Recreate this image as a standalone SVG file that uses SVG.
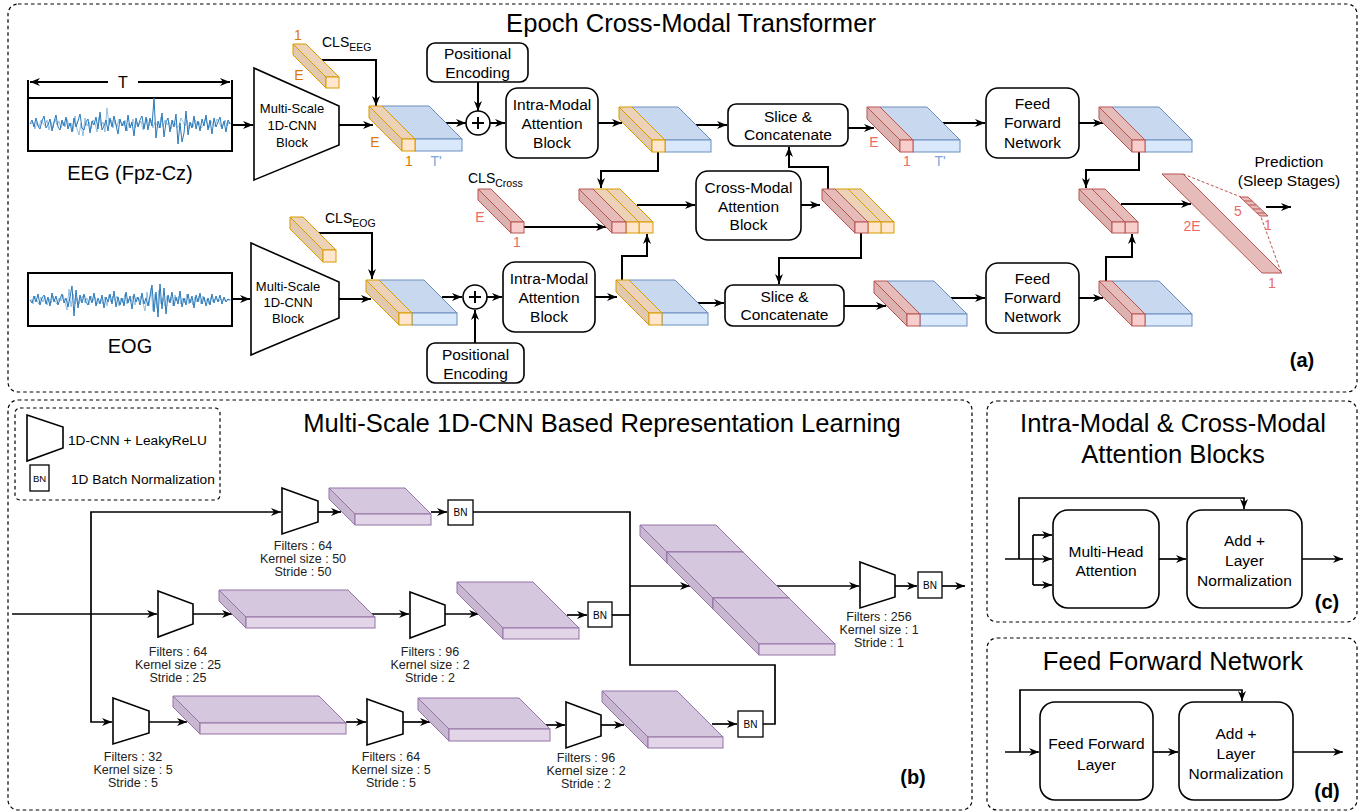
<svg xmlns="http://www.w3.org/2000/svg" width="1367" height="812" viewBox="0 0 1367 812">
<defs>
<style>
text{font-family:"Liberation Sans",Arial,Helvetica,sans-serif;fill:#000}
.c{text-anchor:middle}
.panel{fill:none;stroke:#000;stroke-width:1.2;stroke-dasharray:3.5 3}
.box{fill:#fff;stroke:#000;stroke-width:1.6}
.ln{fill:none;stroke:#000;stroke-width:2}
.lb{fill:none;stroke:#000;stroke-width:1.7}
.sig{fill:none;stroke:#2a78b8;stroke-width:1;stroke-linejoin:round}
.sig2{fill:none;stroke:#78b0dc;stroke-width:0.8;stroke-linejoin:round}
.ot{fill:#ecd2b6;stroke:#d79b00;stroke-width:1}
.ol{fill:#e2c8ac;stroke:#d79b00;stroke-width:1}
.of{fill:#ffe6cc;stroke:#d79b00;stroke-width:1}
.bt{fill:#c8d8ee;stroke:#6c8ebf;stroke-width:1}
.bf{fill:#dae8fc;stroke:#6c8ebf;stroke-width:1}
.rt{fill:#e6bcba;stroke:#b85450;stroke-width:1}
.rl{fill:#dcb2b0;stroke:#b85450;stroke-width:1}
.rf{fill:#f8cecc;stroke:#b85450;stroke-width:1}
.pt{fill:#d4c7de;stroke:#9673a6;stroke-width:1}
.pl{fill:#c8b7d1;stroke:#9673a6;stroke-width:1}
.pf{fill:#e1d5e7;stroke:#9673a6;stroke-width:1}
.lo{fill:#d97a00;font-size:14px}
.lr{fill:#ea6b66;font-size:14px}
.lbl{fill:#7ea6e0;font-size:14px}
.bx{font-size:15.5px}
.ms{font-size:13px}
.pr{font-size:12.5px;fill:#222}
.ttl{font-size:25.6px}
.tag{font-size:20px;font-weight:bold}
.trap{fill:#fff;stroke:#000;stroke-width:1.6}
.bn{fill:#fff;stroke:#000;stroke-width:1.3}
</style>
<marker id="ah" viewBox="0 0 10 8" refX="10" refY="4" markerWidth="10" markerHeight="8" markerUnits="userSpaceOnUse" orient="auto"><path d="M0,0 L10,4 L0,8 L3,4 z" fill="#000"/></marker>
</defs>
<rect width="1367" height="812" fill="#fff"/>

<!-- panels -->
<g id="panels">
<rect class="panel" x="8" y="4" width="1349" height="388" rx="10"/>
<rect class="panel" x="8" y="400" width="964" height="410" rx="10"/>
<rect class="panel" x="987" y="401" width="370" height="221" rx="10"/>
<rect class="panel" x="987" y="638" width="370" height="172" rx="10"/>
<text class="c ttl" x="691" y="32">Epoch Cross-Modal Transformer</text>
<text class="c ttl" x="602" y="432">Multi-Scale 1D-CNN Based Representation Learning</text>
<text class="c ttl" x="1173" y="432">Intra-Modal &amp; Cross-Modal</text>
<text class="c ttl" x="1173" y="463">Attention Blocks</text>
<text class="c ttl" x="1173" y="670">Feed Forward Network</text>
<text class="c tag" x="1302" y="367">(a)</text>
<text class="c tag" x="913" y="784">(b)</text>
<text class="c tag" x="1327" y="609">(c)</text>
<text class="c tag" x="1327" y="798">(d)</text>
</g>

<!-- connectors -->
<g id="connectors">
<path class="ln" d="M108,82 H30" marker-end="url(#ah)"/>
<path class="ln" d="M138,82 H230" marker-end="url(#ah)"/>
<path class="ln" d="M28,80 V98 M232,80 V98"/>
<path class="ln" d="M232,125 H253" marker-end="url(#ah)"/>
<path class="ln" d="M339,125 H373" marker-end="url(#ah)"/>
<path class="ln" d="M321,60 H376 V106" marker-end="url(#ah)"/>
<path class="ln" d="M446,123 H466" marker-end="url(#ah)"/>
<path class="ln" d="M478,82 V111" marker-end="url(#ah)"/>
<path class="ln" d="M490,123 H505" marker-end="url(#ah)"/>
<path class="ln" d="M598,123 H622" marker-end="url(#ah)"/>
<path class="ln" d="M695,125 H727" marker-end="url(#ah)"/>
<path class="ln" d="M848,128 H874" marker-end="url(#ah)"/>
<path class="ln" d="M943,123 H985" marker-end="url(#ah)"/>
<path class="ln" d="M1079,123 H1103" marker-end="url(#ah)"/>
<path class="ln" d="M658,152 V171 H601 V188" marker-end="url(#ah)"/>
<path class="ln" d="M524,227 H606" marker-end="url(#ah)"/>
<path class="ln" d="M637,205 H695" marker-end="url(#ah)"/>
<path class="ln" d="M801,205 H820" marker-end="url(#ah)"/>
<path class="ln" d="M828,189 V167 H789 V147" marker-end="url(#ah)"/>
<path class="ln" d="M861,233 V258 H779 V284" marker-end="url(#ah)"/>
<path class="ln" d="M622,281 V256 H647 V234" marker-end="url(#ah)"/>
<path class="ln" d="M1139,152 V170 H1086 V188" marker-end="url(#ah)"/>
<path class="ln" d="M1106,281 V257 H1132 V234" marker-end="url(#ah)"/>
<path class="ln" d="M1121,204 H1191" marker-end="url(#ah)"/>
<path class="ln" d="M1266,207 H1291" marker-end="url(#ah)"/>
<path class="ln" d="M232,299 H250" marker-end="url(#ah)"/>
<path class="ln" d="M339,299 H371" marker-end="url(#ah)"/>
<path class="ln" d="M319,233 H372 V279" marker-end="url(#ah)"/>
<path class="ln" d="M442,297 H462" marker-end="url(#ah)"/>
<path class="ln" d="M475,343 V310" marker-end="url(#ah)"/>
<path class="ln" d="M487,297 H502" marker-end="url(#ah)"/>
<path class="ln" d="M595,297 H617" marker-end="url(#ah)"/>
<path class="ln" d="M697,303 H724" marker-end="url(#ah)"/>
<path class="ln" d="M844,306 H886" marker-end="url(#ah)"/>
<path class="ln" d="M950,298 H985" marker-end="url(#ah)"/>
<path class="ln" d="M1079,298 H1103" marker-end="url(#ah)"/>
<path d="M1183,174 L1241,197 M1281,272 L1261,217" fill="none" stroke="#b85450" stroke-width="1" stroke-dasharray="3 2"/>
<!-- panel b -->
<path class="lb" d="M12,614 H157" marker-end="url(#ah)"/>
<path class="lb" d="M91,614 V512 H281" marker-end="url(#ah)"/>
<path class="lb" d="M91,614 V722 H112" marker-end="url(#ah)"/>
<path class="lb" d="M318,512 H341" marker-end="url(#ah)"/>
<path class="lb" d="M431,512 H447" marker-end="url(#ah)"/>
<path class="lb" d="M473,512 H630 V665 H775 V724 H763"/>
<path class="lb" d="M612,615 H630"/>
<path class="lb" d="M630,586 H690" marker-end="url(#ah)"/>
<path class="lb" d="M193,614 H232" marker-end="url(#ah)"/>
<path class="lb" d="M372,614 H409" marker-end="url(#ah)"/>
<path class="lb" d="M445,614 H479" marker-end="url(#ah)"/>
<path class="lb" d="M567,615 H587" marker-end="url(#ah)"/>
<path class="lb" d="M149,722 H187" marker-end="url(#ah)"/>
<path class="lb" d="M346,722 H366" marker-end="url(#ah)"/>
<path class="lb" d="M403,722 H430" marker-end="url(#ah)"/>
<path class="lb" d="M546,725 H565" marker-end="url(#ah)"/>
<path class="lb" d="M601,725 H624" marker-end="url(#ah)"/>
<path class="lb" d="M712,724 H737" marker-end="url(#ah)"/>
<path class="lb" d="M777,586 H859" marker-end="url(#ah)"/>
<path class="lb" d="M895,586 H917" marker-end="url(#ah)"/>
<path class="lb" d="M942,586 H965" marker-end="url(#ah)"/>
<!-- panel c -->
<path class="lb" d="M1005,559 H1052" marker-end="url(#ah)"/>
<path class="lb" d="M1033,535 V585"/>
<path class="lb" d="M1033,535 H1052" marker-end="url(#ah)"/>
<path class="lb" d="M1033,585 H1052" marker-end="url(#ah)"/>
<path class="lb" d="M1019,559 V498 H1244 V509" marker-end="url(#ah)"/>
<path class="lb" d="M1159,559 H1186" marker-end="url(#ah)"/>
<path class="lb" d="M1302,559 H1343" marker-end="url(#ah)"/>
<!-- panel d -->
<path class="lb" d="M1005,752 H1039" marker-end="url(#ah)"/>
<path class="lb" d="M1020,752 V690 H1242 V701" marker-end="url(#ah)"/>
<path class="lb" d="M1153,752 H1178" marker-end="url(#ah)"/>
<path class="lb" d="M1293,752 H1343" marker-end="url(#ah)"/>
</g>

<!-- EEG signal -->
<g id="eeg">
<rect x="28" y="98" width="204" height="53" fill="#fff" stroke="#000" stroke-width="2"/>
<polyline class="sig2" points="31,124 33,122 35,129 37,122 39,127 41,120 43,123 45,126 47,120 49,130 51,122 53,128 55,119 57,125 59,121 61,128 63,122 65,127 67,119 69,126 71,123 73,131 75,116 77,129 79,135 81,123 83,136 85,118 87,126 89,122 91,129 93,120 95,123 97,132 99,117 101,126 103,122 105,132 107,108 109,125 111,120 113,128 115,120 117,127 119,119 121,122 123,126 125,120 127,131 129,123 131,126 133,119 135,128 137,122 139,125 141,121 143,130 145,125 147,119 149,126 151,120 153,128 155,122 157,125 159,128 161,117 163,127 165,120 167,125 169,122 171,129 173,121 175,123 177,128 179,126 181,118 183,122 185,126 187,120 189,129 191,123 193,127 195,120 197,125 199,122 201,128 203,126 205,119 207,123 209,128 211,121 213,125 215,126 217,119 219,122 221,127 223,125 225,120 227,126 229,122 231,124"/>
<polyline class="sig" points="30,124 32,120 34,127 36,118 38,126 40,129 42,121 44,116 46,128 48,125 50,119 52,131 54,122 56,115 58,127 60,130 62,120 64,126 66,117 68,129 70,123 72,132 74,118 76,127 78,121 80,114 82,128 84,130 86,122 88,119 90,133 92,121 94,125 96,117 98,129 100,112 102,130 104,126 106,120 108,131 110,118 112,127 114,116 116,125 118,134 120,119 122,126 124,121 126,131 128,115 130,128 132,122 134,136 136,118 138,127 140,120 142,116 144,129 146,117 148,130 150,118 152,126 154,98 156,138 158,121 160,128 162,113 164,137 166,122 168,118 170,132 172,120 174,127 176,114 178,144 180,123 182,142 184,133 186,111 188,135 190,122 192,128 194,116 196,129 198,121 200,131 202,119 204,126 206,115 208,130 210,120 212,134 214,118 216,127 218,122 220,117 222,129 224,121 226,132 228,120 230,124"/>
<text class="c" x="123" y="88" font-size="16">T</text>
<text class="c" x="130" y="180" font-size="20">EEG (Fpz-Cz)</text>
</g>
<g id="eog">
<rect x="28" y="273" width="204" height="53" fill="#fff" stroke="#000" stroke-width="2"/>
<polyline class="sig2" points="31,299 33,304 35,296 37,301 39,304 41,297 43,302 45,296 47,305 49,299 51,303 53,296 55,301 57,304 59,298 61,301 63,295 65,302 67,310 69,289 71,307 73,294 75,304 77,298 79,304 81,299 83,296 85,303 87,298 89,305 91,296 93,301 95,297 97,304 99,302 101,299 103,304 105,297 107,306 109,295 111,302 113,296 115,301 117,296 119,306 121,298 123,303 125,294 127,304 129,299 131,302 133,296 135,305 137,297 139,301 141,296 143,303 145,311 147,292 149,306 151,288 153,311 155,294 157,308 159,290 161,304 163,298 165,306 167,296 169,302 171,297 173,306 175,295 177,301 179,296 181,304 183,298 185,303 187,294 189,304 191,299 193,305 195,297 197,302 199,296 201,304 203,296 205,302 207,299 209,304 211,297 213,302 215,299 217,300 219,301 221,299 223,300 225,300 231,300"/>
<polyline class="sig" points="30,300 32,303 34,296 36,302 38,294 40,305 42,298 44,295 46,304 48,297 50,306 52,293 54,302 56,296 58,305 60,299 62,294 64,303 66,298 68,307 70,297 72,286 74,316 76,290 78,308 80,295 82,303 84,294 86,302 88,305 90,296 92,303 94,293 96,306 98,298 100,304 102,295 104,308 106,297 108,302 110,294 112,304 114,291 116,307 118,297 120,305 122,298 124,306 126,292 128,303 130,296 132,309 134,294 136,302 138,297 140,305 142,293 144,304 146,298 148,306 150,296 152,285 154,312 156,292 158,317 160,284 162,309 164,288 166,314 168,295 170,303 172,292 174,306 176,297 178,304 180,291 182,307 184,298 186,305 188,294 190,303 192,296 194,308 196,295 198,302 200,293 202,304 204,297 206,306 208,298 210,305 212,294 214,303 216,296 218,302 220,295 222,304 224,297 226,302 228,299 230,300"/>
<text class="c" x="130" y="353" font-size="20">EOG</text>
</g>

<!-- CNN blocks -->
<g id="cnn-eeg">
<polygon class="trap" points="254,68 339,106 339,145 254,180"/>
<text class="c ms" x="292" y="113">Multi-Scale</text>
<text class="c ms" x="292" y="130">1D-CNN</text>
<text class="c ms" x="292" y="147">Block</text>
</g>
<g id="cnn-eog">
<polygon class="trap" points="251,243 339,282 339,318 251,355"/>
<text class="c ms" x="288" y="291">Multi-Scale</text>
<text class="c ms" x="288" y="307">1D-CNN</text>
<text class="c ms" x="288" y="323">Block</text>
</g>

<!-- CLS tokens -->
<g id="cls-eeg">
<polygon class="ot" points="326,77 339,77 306,44 293,44"/>
<polygon class="ol" points="326,77 293,44 293,55 326,88"/>
<rect class="of" x="326" y="77" width="13" height="11"/>
<text class="c lo" x="298" y="40">1</text>
<text class="c lo" x="299" y="80">E</text>
<text x="322" y="47" font-size="14">CLS<tspan font-size="10.5" dy="4">EEG</tspan></text>
</g>
<g id="cls-eog">
<polygon class="ot" points="323,250 336,250 303,217 290,217"/>
<polygon class="ol" points="323,250 290,217 290,229 323,262"/>
<rect class="of" x="323" y="250" width="13" height="12"/>
<text x="325" y="223" font-size="14">CLS<tspan font-size="10.5" dy="4">EOG</tspan></text>
</g>
<g id="cls-cross">
<polygon class="rt" points="511,222 524,222 491,189 478,189"/>
<polygon class="rl" points="511,222 478,189 478,200 511,233"/>
<rect class="rf" x="511" y="222" width="13" height="11"/>
<text x="468" y="183" font-size="14">CLS<tspan font-size="10.5" dy="4">Cross</tspan></text>
<text class="c lr" x="480" y="222">E</text>
<text class="c lr" x="517" y="247">1</text>
</g>

<!-- token tensors -->
<g id="tensor1">
<polygon class="bt" points="415,139 462,139 429,106 382,106"/>
<rect class="bf" x="415" y="139" width="47" height="12"/>
<polygon class="ot" points="402,139 415,139 382,106 369,106"/>
<polygon class="ol" points="402,139 369,106 369,118 402,151"/>
<rect class="of" x="402" y="139" width="13" height="12"/>
<text class="c lo" x="375" y="147">E</text>
<text class="c lo" x="409" y="166">1</text>
<text class="c lbl" x="436" y="166">T'</text>
</g>
<g id="tensor2">
<polygon class="bt" points="665,140 711,140 678,107 632,107"/>
<rect class="bf" x="665" y="140" width="46" height="12"/>
<polygon class="ot" points="652,140 665,140 632,107 619,107"/>
<polygon class="ol" points="652,140 619,107 619,119 652,152"/>
<rect class="of" x="652" y="140" width="13" height="12"/>
</g>
<g id="tensor3">
<polygon class="bt" points="913,140 960,140 927,107 880,107"/>
<rect class="bf" x="913" y="140" width="47" height="12"/>
<polygon class="rt" points="900,140 913,140 880,107 867,107"/>
<polygon class="rl" points="900,140 867,107 867,119 900,152"/>
<rect class="rf" x="900" y="140" width="13" height="12"/>
<text class="c lr" x="874" y="147">E</text>
<text class="c lr" x="907" y="166">1</text>
<text class="c lbl" x="940" y="166">T'</text>
</g>
<g id="tensor4">
<polygon class="bt" points="1145,140 1192,140 1159,107 1112,107"/>
<rect class="bf" x="1145" y="140" width="47" height="12"/>
<polygon class="rt" points="1132,140 1145,140 1112,107 1099,107"/>
<polygon class="rl" points="1132,140 1099,107 1099,119 1132,152"/>
<rect class="rf" x="1132" y="140" width="13" height="12"/>
</g>
<g id="tensor5">
<polygon class="bt" points="412,313 457,313 424,280 379,280"/>
<rect class="bf" x="412" y="313" width="45" height="12"/>
<polygon class="ot" points="399,313 412,313 379,280 366,280"/>
<polygon class="ol" points="399,313 366,280 366,292 399,325"/>
<rect class="of" x="399" y="313" width="13" height="12"/>
</g>
<g id="tensor6">
<polygon class="bt" points="662,313 708,313 675,280 629,280"/>
<rect class="bf" x="662" y="313" width="46" height="12"/>
<polygon class="ot" points="649,313 662,313 629,280 616,280"/>
<polygon class="ol" points="649,313 616,280 616,292 649,325"/>
<rect class="of" x="649" y="313" width="13" height="12"/>
</g>
<g id="tensor7">
<polygon class="bt" points="920,314 967,314 934,281 887,281"/>
<rect class="bf" x="920" y="314" width="47" height="12"/>
<polygon class="rt" points="907,314 920,314 887,281 874,281"/>
<polygon class="rl" points="907,314 874,281 874,293 907,326"/>
<rect class="rf" x="907" y="314" width="13" height="12"/>
</g>
<g id="tensor8">
<polygon class="bt" points="1145,314 1192,314 1159,281 1112,281"/>
<rect class="bf" x="1145" y="314" width="47" height="12"/>
<polygon class="rt" points="1132,314 1145,314 1112,281 1099,281"/>
<polygon class="rl" points="1132,314 1099,281 1099,293 1132,326"/>
<rect class="rf" x="1132" y="314" width="13" height="12"/>
</g>
<g id="cross-in">
<polygon class="ot" points="639,222 653,222 620,189 606,189"/>
<rect class="of" x="639" y="222" width="14" height="11"/>
<polygon class="ot" points="626,222 639,222 606,189 593,189"/>
<rect class="of" x="626" y="222" width="13" height="11"/>
<polygon class="rt" points="612,222 626,222 593,189 579,189"/>
<polygon class="rl" points="612,222 579,189 579,200 612,233"/>
<rect class="rf" x="612" y="222" width="14" height="11"/>
</g>
<g id="cross-out">
<polygon class="ot" points="881,222 894,222 861,189 848,189"/>
<rect class="of" x="881" y="222" width="13" height="11"/>
<polygon class="ot" points="868,222 881,222 848,189 835,189"/>
<rect class="of" x="868" y="222" width="13" height="11"/>
<polygon class="rt" points="855,222 868,222 835,189 822,189"/>
<polygon class="rl" points="855,222 822,189 822,200 855,233"/>
<rect class="rf" x="855" y="222" width="13" height="11"/>
</g>
<g id="concat">
<polygon class="rt" points="1125,222 1138,222 1105,189 1092,189"/>
<rect class="rf" x="1125" y="222" width="13" height="11"/>
<polygon class="rt" points="1112,222 1125,222 1092,189 1079,189"/>
<polygon class="rl" points="1112,222 1079,189 1079,200 1112,233"/>
<rect class="rf" x="1112" y="222" width="13" height="11"/>
</g>
<g id="classifier">
<polygon class="rt" points="1162,174 1183,174 1282,273 1262,273"/>
<polygon class="rt" points="1240,197 1248,197 1268,216 1260,216"/>
<path d="M1244.2,201 H1252.2 M1248.4,205 H1256.4 M1252.6,209 H1260.6 M1256.8,213 H1264.8" stroke="#b85450" stroke-width="1"/>
<text class="c lr" x="1192" y="231">2E</text>
<text class="c lr" x="1272" y="288">1</text>
<text class="c lr" x="1238" y="216">5</text>
<text class="c lr" x="1268" y="230">1</text>
<text class="c bx" x="1289" y="167">Prediction</text>
<text class="c bx" x="1289" y="186">(Sleep Stages)</text>
</g>

<!-- blocks panel a -->
<g id="pe-top"><rect class="box" x="427" y="43" width="101" height="39" rx="8"/><text class="c bx" x="477.5" y="58.5">Positional</text><text class="c bx" x="477.5" y="77.5">Encoding</text></g>
<g id="plus-top"><circle cx="478" cy="123" r="12" fill="#fff" stroke="#000" stroke-width="1.6"/><path d="M472,123 H484 M478,117 V129" stroke="#000" stroke-width="2"/></g>
<g id="intra-top"><rect class="box" x="506" y="88" width="92" height="70" rx="12"/><text class="c bx" x="552" y="109.5">Intra-Modal</text><text class="c bx" x="552" y="128.5">Attention</text><text class="c bx" x="552" y="147.5">Block</text></g>
<g id="slice-top"><rect class="box" x="728" y="104" width="120" height="42" rx="8"/><text class="c bx" x="788" y="121.5">Slice &amp;</text><text class="c bx" x="788" y="139.5">Concatenate</text></g>
<g id="ffn-top"><rect class="box" x="986" y="88" width="93" height="70" rx="12"/><text class="c bx" x="1032.5" y="108.5">Feed</text><text class="c bx" x="1032.5" y="128">Forward</text><text class="c bx" x="1032.5" y="147.5">Network</text></g>
<g id="cross-block"><rect class="box" x="696" y="171" width="105" height="69" rx="12"/><text class="c bx" x="748.5" y="192.5">Cross-Modal</text><text class="c bx" x="748.5" y="211.5">Attention</text><text class="c bx" x="748.5" y="229.5">Block</text></g>
<g id="pe-bot"><rect class="box" x="427" y="343" width="97" height="40" rx="8"/><text class="c bx" x="475.5" y="359.5">Positional</text><text class="c bx" x="475.5" y="378.5">Encoding</text></g>
<g id="plus-bot"><circle cx="475" cy="297" r="12" fill="#fff" stroke="#000" stroke-width="1.6"/><path d="M469,297 H481 M475,291 V303" stroke="#000" stroke-width="2"/></g>
<g id="intra-bot"><rect class="box" x="503" y="262" width="92" height="70" rx="12"/><text class="c bx" x="549" y="283.5">Intra-Modal</text><text class="c bx" x="549" y="302.5">Attention</text><text class="c bx" x="549" y="321.5">Block</text></g>
<g id="slice-bot"><rect class="box" x="725" y="285" width="119" height="41" rx="8"/><text class="c bx" x="784.5" y="301.5">Slice &amp;</text><text class="c bx" x="784.5" y="319.5">Concatenate</text></g>
<g id="ffn-bot"><rect class="box" x="986" y="263" width="93" height="70" rx="12"/><text class="c bx" x="1032.5" y="283.5">Feed</text><text class="c bx" x="1032.5" y="303">Forward</text><text class="c bx" x="1032.5" y="321.5">Network</text></g>

<!-- panel b -->
<g id="legend">
<rect x="15" y="408" width="205" height="92" rx="5" fill="none" stroke="#000" stroke-width="1.2" stroke-dasharray="3.5 3"/>
<polygon class="trap" points="27,415 63,427 63,448 27,461"/>
<text x="68" y="445" font-size="13.7">1D-CNN + LeakyReLU</text>
<rect class="bn" x="30" y="465" width="19" height="26"/>
<text class="c" x="39.5" y="481.5" font-size="9.5">BN</text>
<text x="71" y="484" font-size="13.7">1D Batch Normalization</text>
</g>
<g id="conv1"><polygon class="trap" points="282,488 318,501 318,522 282,534"/><text class="c pr" x="303" y="550">Filters : 64</text><text class="c pr" x="303" y="563">Kernel size : 50</text><text class="c pr" x="303" y="576">Stride : 50</text></g>
<g id="slab1"><polygon class="pt" points="355,514 431,514 405,488 329,488"/><polygon class="pl" points="355,514 329,488 329,499 355,525"/><rect class="pf" x="355" y="514" width="76" height="11"/></g>
<g id="bn1"><rect class="bn" x="448" y="500" width="25" height="25"/><text class="c" x="460.5" y="516" font-size="10">BN</text></g>
<g id="conv2"><polygon class="trap" points="158,591 193,604 193,624 158,637"/><text class="c pr" x="178" y="656">Filters : 64</text><text class="c pr" x="178" y="669">Kernel size : 25</text><text class="c pr" x="178" y="682">Stride : 25</text></g>
<g id="slab2"><polygon class="pt" points="246,617 375,617 348,590 219,590"/><polygon class="pl" points="246,617 219,590 219,601 246,628"/><rect class="pf" x="246" y="617" width="129" height="11"/></g>
<g id="conv3"><polygon class="trap" points="410,592 445,605 445,625 410,638"/><text class="c pr" x="430" y="656">Filters : 96</text><text class="c pr" x="430" y="669">Kernel size : 2</text><text class="c pr" x="430" y="682">Stride : 2</text></g>
<g id="slab3"><polygon class="pt" points="503,628 579,628 533,582 457,582"/><polygon class="pl" points="503,628 457,582 457,593 503,639"/><rect class="pf" x="503" y="628" width="76" height="11"/></g>
<g id="bn2"><rect class="bn" x="588" y="602" width="24" height="25"/><text class="c" x="600" y="618.5" font-size="10">BN</text></g>
<g id="conv4"><polygon class="trap" points="113,698 149,711 149,733 113,744"/><text class="c pr" x="133" y="761">Filters : 32</text><text class="c pr" x="133" y="774">Kernel size : 5</text><text class="c pr" x="133" y="787">Stride : 5</text></g>
<g id="slab4"><polygon class="pt" points="200,723 346,723 319,696 173,696"/><polygon class="pl" points="200,723 173,696 173,707 200,734"/><rect class="pf" x="200" y="723" width="146" height="11"/></g>
<g id="conv5"><polygon class="trap" points="367,699 403,712 403,734 367,745"/><text class="c pr" x="391" y="761">Filters : 64</text><text class="c pr" x="391" y="774">Kernel size : 5</text><text class="c pr" x="391" y="787">Stride : 5</text></g>
<g id="slab5"><polygon class="pt" points="449,729 550,729 519,698 418,698"/><polygon class="pl" points="449,729 418,698 418,710 449,741"/><rect class="pf" x="449" y="729" width="101" height="12"/></g>
<g id="conv6"><polygon class="trap" points="566,702 601,715 601,736 566,748"/><text class="c pr" x="586" y="762">Filters : 96</text><text class="c pr" x="586" y="775">Kernel size : 2</text><text class="c pr" x="586" y="788">Stride : 2</text></g>
<g id="slab6"><polygon class="pt" points="648,737 723,737 677,691 602,691"/><polygon class="pl" points="648,737 602,691 602,702 648,748"/><rect class="pf" x="648" y="737" width="75" height="11"/></g>
<g id="bn3"><rect class="bn" x="738" y="711" width="25" height="26"/><text class="c" x="750.5" y="727.5" font-size="10">BN</text></g>
<g id="concat-b">
<polygon class="pt" points="667,552 743,552 716,525 640,525"/><polygon class="pl" points="667,552 640,525 640,536 667,563"/><rect class="pf" x="667" y="552" width="76" height="11"/>
<polygon class="pt" points="713,598 789,598 743,552 667,552"/><polygon class="pl" points="713,598 667,552 667,563 713,609"/><rect class="pf" x="713" y="598" width="76" height="11"/>
<polygon class="pt" points="759,644 835,644 789,598 713,598"/><polygon class="pl" points="759,644 713,598 713,609 759,655"/><rect class="pf" x="759" y="644" width="76" height="11"/>
</g>
<g id="conv7"><polygon class="trap" points="860,562 895,575 895,597 860,608"/><text class="c pr" x="879" y="621">Filters : 256</text><text class="c pr" x="879" y="634">Kernel size : 1</text><text class="c pr" x="879" y="647">Stride : 1</text></g>
<g id="bn4"><rect class="bn" x="918" y="572" width="24" height="26"/><text class="c" x="930" y="588.5" font-size="10">BN</text></g>

<!-- panel c -->
<g id="mha"><rect class="box" x="1053" y="510" width="106" height="98" rx="15"/><text class="c bx" x="1106" y="556.5">Multi-Head</text><text class="c bx" x="1106" y="575.5">Attention</text></g>
<g id="addnorm-c"><rect class="box" x="1187" y="510" width="115" height="98" rx="15"/><text class="c bx" x="1244.5" y="545.5">Add +</text><text class="c bx" x="1244.5" y="566">Layer</text><text class="c bx" x="1244.5" y="585.5">Normalization</text></g>
<!-- panel d -->
<g id="ffl"><rect class="box" x="1040" y="702" width="113" height="98" rx="15"/><text class="c bx" x="1096.5" y="748.5">Feed Forward</text><text class="c bx" x="1096.5" y="769.5">Layer</text></g>
<g id="addnorm-d"><rect class="box" x="1179" y="702" width="114" height="98" rx="15"/><text class="c bx" x="1236" y="738.5">Add +</text><text class="c bx" x="1236" y="758.5">Layer</text><text class="c bx" x="1236" y="778.5">Normalization</text></g>
</svg>
